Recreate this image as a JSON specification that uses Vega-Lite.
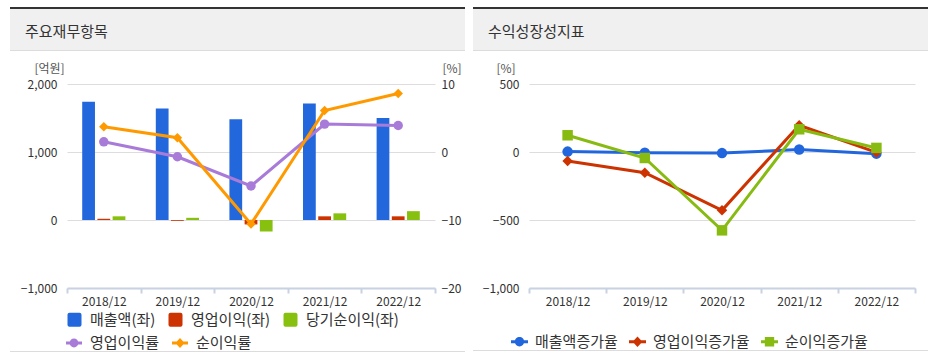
{
  "$schema": "https://vega.github.io/schema/vega-lite/v6.json",
  "background": "white",
  "padding": {"left": 10, "top": 7, "right": 0, "bottom": 0},
  "config": {
    "font": "Noto Sans CJK KR",
    "view": {"stroke": null},
    "axis": {"labelFont": "Noto Sans CJK KR", "labelFontSize": 12, "labelColor": "#333333", "titleFont": "Noto Sans CJK KR", "titleFontSize": 12, "titleFontWeight": "normal", "titleColor": "#555555"},
    "legend": {"labelFont": "Noto Sans CJK KR", "labelFontSize": 15, "labelColor": "#333333"}
  },
  "datasets": {
    "fin": [
      {"연도": "2018/12", "항목": "매출액(좌)", "값": 1740},
      {"연도": "2018/12", "항목": "영업이익(좌)", "값": 18},
      {"연도": "2018/12", "항목": "당기순이익(좌)", "값": 54},
      {"연도": "2019/12", "항목": "매출액(좌)", "값": 1640},
      {"연도": "2019/12", "항목": "영업이익(좌)", "값": -12},
      {"연도": "2019/12", "항목": "당기순이익(좌)", "값": 32},
      {"연도": "2020/12", "항목": "매출액(좌)", "값": 1480},
      {"연도": "2020/12", "항목": "영업이익(좌)", "값": -65},
      {"연도": "2020/12", "항목": "당기순이익(좌)", "값": -170},
      {"연도": "2021/12", "항목": "매출액(좌)", "값": 1715},
      {"연도": "2021/12", "항목": "영업이익(좌)", "값": 54},
      {"연도": "2021/12", "항목": "당기순이익(좌)", "값": 98},
      {"연도": "2022/12", "항목": "매출액(좌)", "값": 1500},
      {"연도": "2022/12", "항목": "영업이익(좌)", "값": 54},
      {"연도": "2022/12", "항목": "당기순이익(좌)", "값": 130}
    ],
    "margin": [
      {"연도": "2018/12", "지표": "영업이익률", "비율": 1.5},
      {"연도": "2019/12", "지표": "영업이익률", "비율": -0.7},
      {"연도": "2020/12", "지표": "영업이익률", "비율": -5.0},
      {"연도": "2021/12", "지표": "영업이익률", "비율": 4.1},
      {"연도": "2022/12", "지표": "영업이익률", "비율": 3.9},
      {"연도": "2018/12", "지표": "순이익률", "비율": 3.7},
      {"연도": "2019/12", "지표": "순이익률", "비율": 2.1},
      {"연도": "2020/12", "지표": "순이익률", "비율": -10.6},
      {"연도": "2021/12", "지표": "순이익률", "비율": 6.1},
      {"연도": "2022/12", "지표": "순이익률", "비율": 8.6}
    ],
    "growth": [
      {"연도": "2018/12", "지표": "매출액증가율", "증가율": 3},
      {"연도": "2019/12", "지표": "매출액증가율", "증가율": -5},
      {"연도": "2020/12", "지표": "매출액증가율", "증가율": -8},
      {"연도": "2021/12", "지표": "매출액증가율", "증가율": 18},
      {"연도": "2022/12", "지표": "매출액증가율", "증가율": -12},
      {"연도": "2018/12", "지표": "영업이익증가율", "증가율": -66},
      {"연도": "2019/12", "지표": "영업이익증가율", "증가율": -152},
      {"연도": "2020/12", "지표": "영업이익증가율", "증가율": -429},
      {"연도": "2021/12", "지표": "영업이익증가율", "증가율": 196},
      {"연도": "2022/12", "지표": "영업이익증가율", "증가율": -3},
      {"연도": "2018/12", "지표": "순이익증가율", "증가율": 123},
      {"연도": "2019/12", "지표": "순이익증가율", "증가율": -44},
      {"연도": "2020/12", "지표": "순이익증가율", "증가율": -576},
      {"연도": "2021/12", "지표": "순이익증가율", "증가율": 167},
      {"연도": "2022/12", "지표": "순이익증가율", "증가율": 30}
    ]
  },
  "spacing": 8,
  "resolve": {"scale": {"color": "independent", "shape": "independent"}, "legend": {"color": "independent", "shape": "independent"}},
  "hconcat": [
    {
      "spacing": 11,
      "resolve": {"scale": {"color": "independent", "shape": "independent"}, "legend": {"color": "independent", "shape": "independent"}},
      "vconcat": [
        {
          "spacing": 0,
          "vconcat": [
            {"width": 455, "height": 2, "view": {"fill": "#333333", "stroke": null}, "data": {"values": []}, "mark": {"type": "text"}, "encoding": {"text": {"value": ""}}},
            {"width": 455, "height": 41, "view": {"fill": "#f0f0f0", "stroke": null}, "data": {"values": [{"t": "주요재무항목"}]}, "mark": {"type": "text", "align": "left", "baseline": "middle", "fontSize": 15, "color": "#333333", "font": "Noto Sans CJK KR"}, "encoding": {"text": {"field": "t"}, "x": {"value": 15}, "y": {"value": 22.5}}},
            {"width": 455, "height": 1, "view": {"fill": "#dcdcdc", "stroke": null}, "data": {"values": []}, "mark": {"type": "text"}, "encoding": {"text": {"value": ""}}}
          ]
        },
        {
          "spacing": -10,
          "resolve": {"scale": {"color": "independent", "shape": "independent"}, "legend": {"color": "independent", "shape": "independent"}},
          "vconcat": [
            {
              "width": 425,
              "height": 204,
              "layer": [
                {
                  "data": {"name": "fin"},
                  "mark": {"type": "bar"},
                  "encoding": {
                    "x": {"field": "연도", "type": "nominal", "scale": {"range": [57, 425], "paddingInner": 0, "paddingOuter": 0}, "axis": {"title": null, "labelAngle": 0, "tickBand": "extent", "domainColor": "#c8d2e2", "domainWidth": 2, "tickColor": "#c8d2e2", "tickWidth": 2, "tickSize": 5, "labelPadding": 3, "grid": false}},
                    "xOffset": {"field": "항목", "type": "nominal", "sort": ["매출액(좌)", "영업이익(좌)", "당기순이익(좌)"], "scale": {"paddingInner": 0.161, "paddingOuter": 1.05}},
                    "y": {"field": "값", "type": "quantitative", "scale": {"domain": [-1000, 2000], "nice": false}, "axis": {"offset": -57, "values": [-1000, 0, 1000, 2000], "format": ",d", "title": "[억원]", "titleAngle": 0, "titleX": -18, "titleY": -16, "titleAlign": "center", "titleBaseline": "middle", "domain": false, "ticks": false, "labelPadding": 10, "grid": true, "gridColor": "#dddddd"}},
                    "color": {"field": "항목", "type": "nominal", "sort": ["매출액(좌)", "영업이익(좌)", "당기순이익(좌)"], "scale": {"domain": ["매출액(좌)", "영업이익(좌)", "당기순이익(좌)"], "range": ["#2268dc", "#cc3300", "#88c010"]},
                      "legend": {"orient": "none", "legendX": 57, "legendY": 228, "direction": "horizontal", "title": null, "symbolType": "M-1,-0.72Q-1,-1 -0.72,-1L0.72,-1Q1,-1 1,-0.72L1,0.72Q1,1 0.72,1L-0.72,1Q-1,1 -1,0.72Z", "symbolSize": 196, "symbolStrokeWidth": 0, "symbolOpacity": 1, "labelOffset": 8, "columnPadding": 12, "labelFontSize": 15}}
                  }
                },
                {
                  "data": {"name": "margin"},
                  "encoding": {
                    "x": {"field": "연도", "type": "nominal"},
                    "y": {"field": "비율", "type": "quantitative", "scale": {"domain": [-20, 10], "nice": false}, "axis": {"orient": "right", "values": [-20, -10, 0, 10], "grid": false, "domain": false, "ticks": false, "labelPadding": 6, "title": "[%]", "titleAngle": 0, "titleX": 16.5, "titleY": -16, "titleAlign": "center", "titleBaseline": "middle"}},
                    "color": {"field": "지표", "type": "nominal", "scale": {"domain": ["영업이익률", "순이익률"], "range": ["#a97bd9", "#ff9900"]},
                      "legend": {"orient": "none", "legendX": 56, "legendY": 251, "direction": "horizontal", "title": null, "symbolSize": 256, "symbolStrokeWidth": 0, "labelOffset": 8, "columnPadding": 12, "labelFontSize": 15,
                        "encode": {"symbols": {"update": {
                          "shape": {"signal": "datum.value === '영업이익률' ? 'M-1,-0.19H1V0.19H-1Z M-0.55,0A0.55,0.55 0 1,1 0.55,0A0.55,0.55 0 1,1 -0.55,0Z' : 'M-1,-0.19H1V0.19H-1Z M0,-0.62L0.58,0L0,0.62L-0.58,0Z'"},
                          "fill": {"signal": "datum.value === '영업이익률' ? '#a97bd9' : '#ff9900'"},
                          "stroke": {"value": "transparent"},
                          "strokeWidth": {"value": 0},
                          "opacity": {"value": 1}
                        }}}}}
                  },
                  "layer": [
                    {"mark": {"type": "line", "strokeWidth": 3}},
                    {"mark": {"type": "point", "filled": true, "opacity": 1, "size": 90}, "encoding": {"shape": {"condition": {"test": "datum['지표'] === '순이익률'", "value": "diamond"}, "value": "circle"}}}
                  ]
                }
              ],
              "resolve": {"scale": {"y": "independent", "color": "independent", "shape": "independent"}, "legend": {"color": "independent"}}
            },
            {"width": 455, "height": 1, "view": {"fill": "#dcdcdc", "stroke": null}, "data": {"values": []}, "mark": {"type": "text"}, "encoding": {"text": {"value": ""}}}
          ]
        }
      ]
    },
    {
      "spacing": 11,
      "resolve": {"scale": {"color": "independent", "shape": "independent"}, "legend": {"color": "independent", "shape": "independent"}},
      "vconcat": [
        {
          "spacing": 0,
          "vconcat": [
            {"width": 455, "height": 2, "view": {"fill": "#333333", "stroke": null}, "data": {"values": []}, "mark": {"type": "text"}, "encoding": {"text": {"value": ""}}},
            {"width": 455, "height": 41, "view": {"fill": "#f0f0f0", "stroke": null}, "data": {"values": [{"t": "수익성장성지표"}]}, "mark": {"type": "text", "align": "left", "baseline": "middle", "fontSize": 15, "color": "#333333", "font": "Noto Sans CJK KR"}, "encoding": {"text": {"field": "t"}, "x": {"value": 15}, "y": {"value": 22.5}}},
            {"width": 455, "height": 1, "view": {"fill": "#dcdcdc", "stroke": null}, "data": {"values": []}, "mark": {"type": "text"}, "encoding": {"text": {"value": ""}}}
          ]
        },
        {
          "spacing": -9,
          "resolve": {"scale": {"color": "independent", "shape": "independent"}, "legend": {"color": "independent", "shape": "independent"}},
          "vconcat": [
            {
              "width": 455,
              "height": 204,
              "data": {"name": "growth"},
              "encoding": {
                "x": {"field": "연도", "type": "nominal", "scale": {"range": [56, 442], "paddingInner": 0, "paddingOuter": 0}, "axis": {"title": null, "labelAngle": 0, "tickBand": "extent", "domainColor": "#c8d2e2", "domainWidth": 2, "tickColor": "#c8d2e2", "tickWidth": 2, "tickSize": 5, "labelPadding": 3, "grid": false}},
                "y": {"field": "증가율", "type": "quantitative", "scale": {"domain": [-1000, 500], "nice": false}, "axis": {"offset": -56, "values": [-1000, -500, 0, 500], "format": ",d", "title": "[%]", "titleAngle": 0, "titleX": -23.5, "titleY": -16, "titleAlign": "center", "titleBaseline": "middle", "domain": false, "ticks": false, "labelPadding": 10, "grid": true, "gridColor": "#dddddd"}},
                "color": {"field": "지표", "type": "nominal", "scale": {"domain": ["매출액증가율", "영업이익증가율", "순이익증가율"], "range": ["#2266dd", "#cc3300", "#88bb11"]},
                  "legend": {"orient": "none", "legendX": 38, "legendY": 249, "direction": "horizontal", "title": null, "symbolSize": 289, "symbolStrokeWidth": 0, "labelOffset": 7, "columnPadding": 11, "labelFontSize": 15,
                    "encode": {"symbols": {"update": {
                      "shape": {"signal": "datum.value === '매출액증가율' ? 'M-1,-0.19H1V0.19H-1Z M-0.55,0A0.55,0.55 0 1,1 0.55,0A0.55,0.55 0 1,1 -0.55,0Z' : datum.value === '영업이익증가율' ? 'M-1,-0.19H1V0.19H-1Z M0,-0.62L0.58,0L0,0.62L-0.58,0Z' : 'M-1,-0.19H1V0.19H-1Z M-0.55,-0.55H0.55V0.55H-0.55Z'"},
                      "fill": {"signal": "datum.value === '매출액증가율' ? '#2266dd' : datum.value === '영업이익증가율' ? '#cc3300' : '#88bb11'"},
                      "stroke": {"value": "transparent"},
                      "strokeWidth": {"value": 0},
                      "opacity": {"value": 1}
                    }}}}}
              },
              "layer": [
                {"mark": {"type": "line", "strokeWidth": 3}},
                {"mark": {"type": "point", "filled": true, "opacity": 1, "size": 110}, "encoding": {"shape": {"condition": [{"test": "datum['지표'] === '영업이익증가율'", "value": "diamond"}, {"test": "datum['지표'] === '순이익증가율'", "value": "square"}], "value": "circle"}}}
              ]
            },
            {"width": 455, "height": 1, "view": {"fill": "#dcdcdc", "stroke": null}, "data": {"values": []}, "mark": {"type": "text"}, "encoding": {"text": {"value": ""}}}
          ]
        }
      ]
    }
  ]
}
